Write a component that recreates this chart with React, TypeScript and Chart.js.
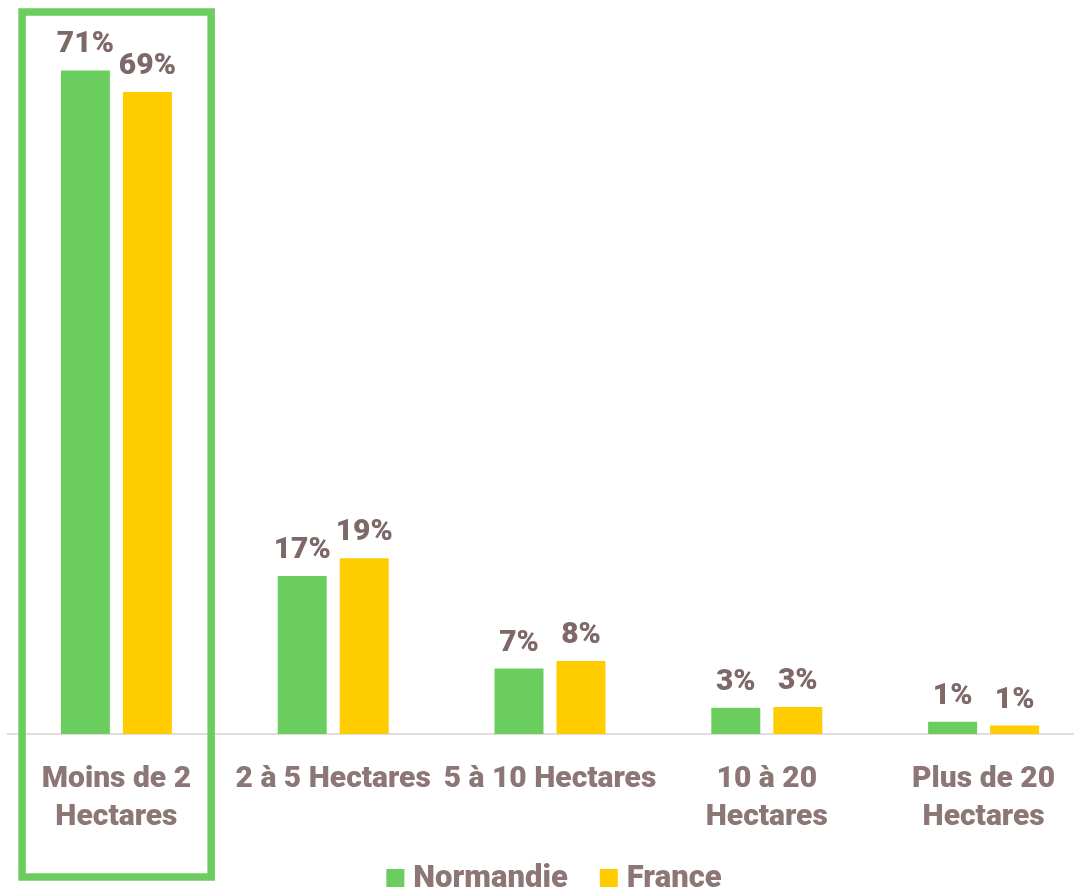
import React, { useEffect, useRef } from "react";
import { Chart, registerables } from "chart.js";

Chart.register(...registerables);

const categories: (string | string[])[] = [
  ["Moins de 2", "Hectares"],
  "2 à 5 Hectares",
  "5 à 10 Hectares",
  ["10 à 20", "Hectares"],
  ["Plus de 20", "Hectares"],
];
const seriesNames = ["Normandie", "France"];
const normandie = [71.0, 16.9, 7.0, 2.8, 1.3];
const france = [68.7, 18.8, 7.8, 2.9, 0.9];
const highlightIndex = 0;

const GREEN = "#6BCD5D";
const YELLOW = "#FFCC00";
const LABEL_COLOR = "#8C7676";
const VALUE_COLOR = "#7E6868";
const FONT = "Roboto, 'Noto Sans', sans-serif";

const valueLabels = {
  id: "valueLabels",
  afterDatasetsDraw(chart: any) {
    const ctx = chart.ctx;
    ctx.save();
    ctx.font = `900 30px ${FONT}`;
    ctx.fillStyle = VALUE_COLOR;
    ctx.textAlign = "center";
    ctx.textBaseline = "alphabetic";
    chart.data.datasets.forEach((ds: any, di: number) => {
      const meta = chart.getDatasetMeta(di);
      meta.data.forEach((bar: any, i: number) => {
        const v = ds.data[i];
        ctx.fillText(`${Math.round(v)}%`, bar.x, bar.y - 18);
      });
    });
    ctx.restore();
  },
};

const highlightBox = {
  id: "highlightBox",
  afterDraw(chart: any) {
    const ctx = chart.ctx;
    const xs = chart.scales.x;
    const n = chart.data.labels.length;
    const catW = (xs.right - xs.left) / n;
    const cx = xs.getPixelForValue(highlightIndex);
    ctx.save();
    ctx.strokeStyle = GREEN;
    ctx.lineWidth = 7.5;
    const left = cx - catW * 0.435;
    const right = cx + catW * 0.437;
    ctx.strokeRect(left, 12, right - left, 865);
    ctx.restore();
  },
};

const customLegend = {
  id: "customLegend",
  afterDraw(chart: any) {
    const ctx = chart.ctx;
    const area = chart.chartArea;
    ctx.save();
    ctx.font = `900 31px ${FONT}`;
    ctx.textBaseline = "middle";
    ctx.textAlign = "left";
    const box = 18;
    const gapBoxText = 9;
    const gapItems = 32;
    const items = chart.data.datasets.map((ds: any) => ({
      text: ds.label,
      color: ds.backgroundColor,
      w: ctx.measureText(ds.label).width,
    }));
    const total =
      items.reduce((s: number, it: any) => s + box + gapBoxText + it.w, 0) +
      gapItems * (items.length - 1);
    let x = (area.left + area.right) / 2 + 4 - total / 2;
    const y = 878;
    items.forEach((it: any) => {
      ctx.fillStyle = it.color;
      ctx.fillRect(x, y - box / 2, box, box);
      x += box + gapBoxText;
      ctx.fillStyle = LABEL_COLOR;
      ctx.fillText(it.text, x, y + 1);
      x += it.w + gapItems;
    });
    ctx.restore();
  },
};

export default function App() {
  const ref = useRef<HTMLCanvasElement | null>(null);
  useEffect(() => {
    if (!ref.current) return;
    const chart = new Chart(ref.current, {
      type: "bar",
      data: {
        labels: categories,
        datasets: [
          {
            label: seriesNames[0],
            data: normandie,
            backgroundColor: GREEN,
            categoryPercentage: 0.572,
            barPercentage: 0.79,
          },
          {
            label: seriesNames[1],
            data: france,
            backgroundColor: YELLOW,
            categoryPercentage: 0.572,
            barPercentage: 0.79,
          },
        ],
      },
      options: {
        responsive: false,
        animation: false,
        devicePixelRatio: 1,
        layout: { padding: { left: 8, right: 8, top: 33, bottom: 0 } },
        plugins: {
          legend: { display: false },
          tooltip: { enabled: false },
          title: { display: false },
        },
        scales: {
          x: {
            grid: { display: false, drawTicks: false },
            border: { display: true, color: "#E2DCDC", width: 2 },
            ticks: {
              color: LABEL_COLOR,
              font: { family: FONT, size: 30, weight: "900", lineHeight: 1.28 },
              padding: 26,
              maxRotation: 0,
              minRotation: 0,
              autoSkip: false,
            },
            afterFit(scale: any) {
              scale.height = 156;
            },
          },
          y: {
            display: false,
            min: 0,
            max: 75,
          },
        },
      },
      plugins: [valueLabels, highlightBox, customLegend],
    });
    return () => chart.destroy();
  }, []);
  return (
    <div
      style={{
        position: "fixed",
        left: 0,
        top: 0,
        width: 1074,
        height: 890,
        overflow: "hidden",
        background: "#fff",
      }}
    >
      <canvas ref={ref} width={1100} height={890} style={{ display: "block" }} />
    </div>
  );
}
